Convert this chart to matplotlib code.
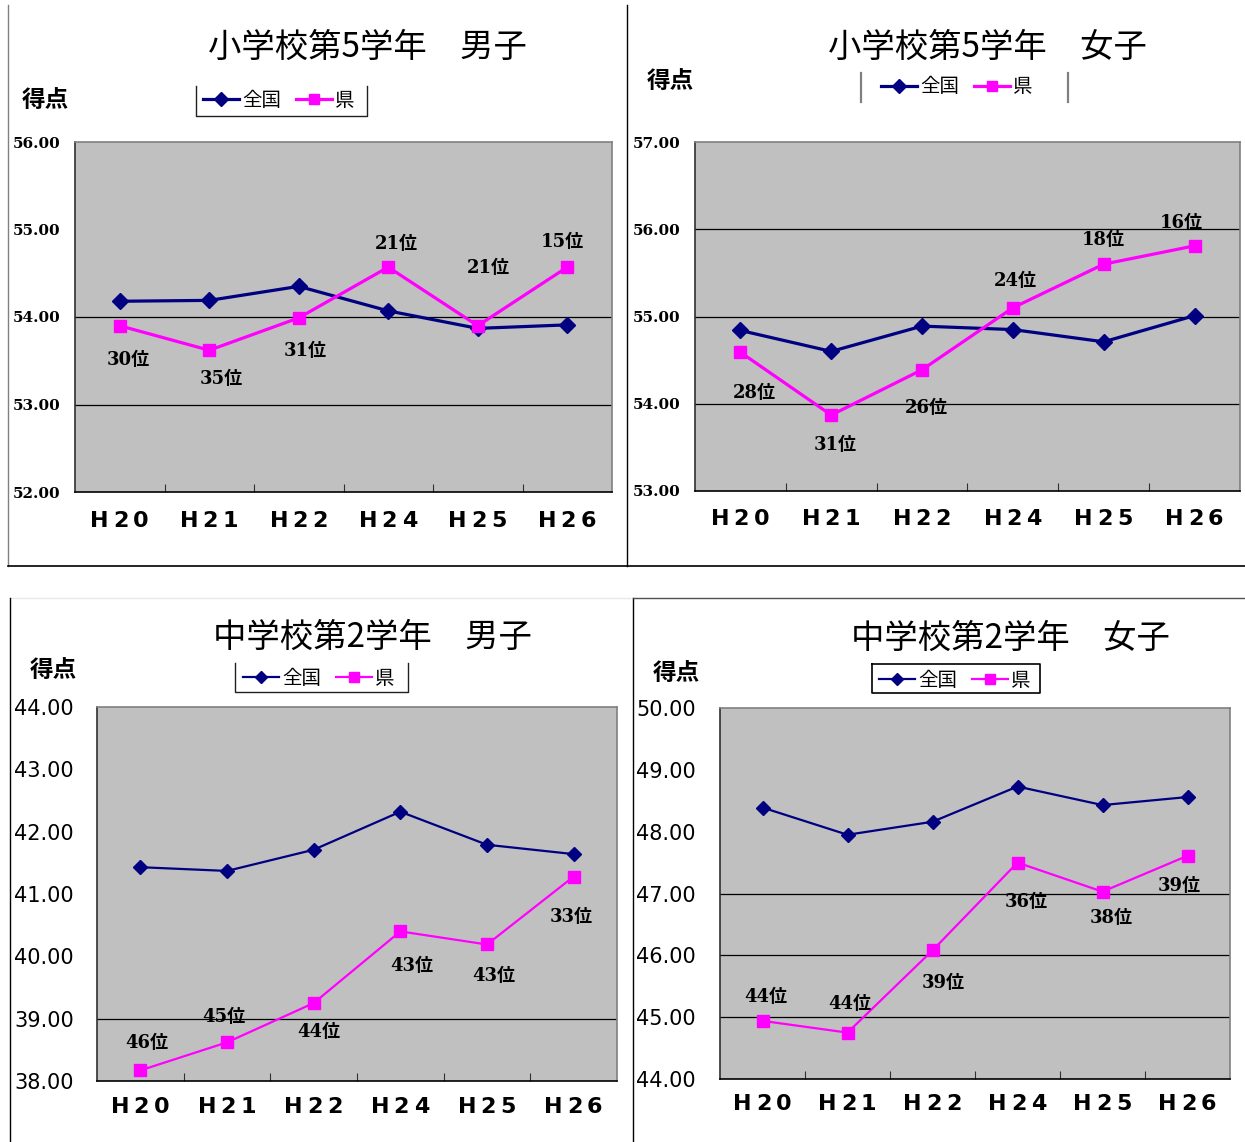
import matplotlib
matplotlib.use("Agg")
import matplotlib.pyplot as plt
from matplotlib.lines import Line2D

W, H = 1245, 1142
CJK = ["Noto Sans CJK JP", "DejaVu Sans"]
RANKFONT = ["DejaVu Serif", "Noto Sans CJK JP"]

categories = ["H20", "H21", "H22", "H24", "H25", "H26"]

titles = ["小学校第5学年　男子", "小学校第5学年　女子",
          "中学校第2学年　男子", "中学校第2学年　女子"]

national_e5_boys = [54.18, 54.19, 54.35, 54.07, 53.87, 53.91]
pref_e5_boys = [53.90, 53.62, 53.99, 54.57, 53.90, 54.57]
rank_e5_boys = ["30位", "35位", "31位", "21位", "21位", "15位"]

national_e5_girls = [54.84, 54.60, 54.89, 54.85, 54.71, 55.01]
pref_e5_girls = [54.59, 53.87, 54.39, 55.10, 55.60, 55.81]
rank_e5_girls = ["28位", "31位", "26位", "24位", "18位", "16位"]

national_j2_boys = [41.43, 41.37, 41.71, 42.32, 41.79, 41.64]
pref_j2_boys = [38.17, 38.62, 39.25, 40.40, 40.19, 41.28]
rank_j2_boys = ["46位", "45位", "44位", "43位", "43位", "33位"]

national_j2_girls = [48.39, 47.95, 48.16, 48.73, 48.43, 48.56]
pref_j2_girls = [44.94, 44.75, 46.08, 47.50, 47.03, 47.61]
rank_j2_girls = ["44位", "44位", "39位", "36位", "38位", "39位"]

ylims = [(52, 56), (53, 57), (38, 44), (44, 50)]
gridlines = [[53, 54], [54, 55, 56], [39], [45, 46, 47]]

panels = [
    dict(nat=national_e5_boys, pref=pref_e5_boys, rank=rank_e5_boys,
         box=(75, 142, 612, 492), lw=2.3, top=True,
         off=[(9, 34), (12, 29), (6, 33), (8, -23), (11, -58), (-5, -25)],
         title_xy=(367, 47), tokuten_xy=(45, 100), xlab_y=521, ytick_x=13,
         leg=dict(y=100, x0=207)),
    dict(nat=national_e5_girls, pref=pref_e5_girls, rank=rank_e5_girls,
         box=(695, 142, 1240, 491), lw=2.3, top=True,
         off=[(14, 41), (4, 30), (4, 38), (2, -27), (-1, -24), (-13, -23)],
         title_xy=(987, 47), tokuten_xy=(670, 81), xlab_y=519, ytick_x=633,
         leg=dict(y=87, x0=885)),
    dict(nat=national_j2_boys, pref=pref_j2_boys, rank=rank_j2_boys,
         box=(97, 707, 617, 1081), lw=1.6, top=False,
         off=[(6, -27), (-3, -25), (5, 29), (11, 35), (7, 32), (-2, 40)],
         title_xy=(372, 637), tokuten_xy=(53, 670), xlab_y=1107, ytick_x=14,
         leg=dict(y=678, x0=247)),
    dict(nat=national_j2_girls, pref=pref_j2_girls, rank=rank_j2_girls,
         box=(720, 708, 1230, 1079), lw=1.6, top=False,
         off=[(3, -24), (2, -29), (11, 33), (9, 39), (9, 26), (-8, 30)],
         title_xy=(1010, 638), tokuten_xy=(676, 673), xlab_y=1104, ytick_x=636,
         leg=dict(y=680, x0=883)),
]

NAVY = "#000080"
MAG = "#FF00FF"
CHAR_OFFSETS = [-20, 1, 21]

fig = plt.figure(figsize=(W / 100, H / 100), dpi=100)
fig.patch.set_facecolor("white")


def fx(x):
    return x / W


def fy(y):
    return 1 - y / H


def fline(xs, ys, color="black", lw=1.0):
    fig.add_artist(Line2D([fx(x) for x in xs], [fy(y) for y in ys],
                          color=color, lw=lw, transform=fig.transFigure))


x = list(range(len(categories)))

for i, p in enumerate(panels):
    x0, y0, x1, y1 = p["box"]
    ax = fig.add_axes([fx(x0), fy(y1), (x1 - x0) / W, (y1 - y0) / H])
    ax.set_facecolor("#C0C0C0")
    ax.set_xlim(-0.5, len(categories) - 0.5)
    ax.set_ylim(*ylims[i])
    for g in gridlines[i]:
        ax.axhline(g, color="black", lw=0.9, zorder=1)
    ms = 9 if p["top"] else 8
    ax.plot(x, p["nat"], color=NAVY, lw=p["lw"], marker="D", ms=ms - 1,
            zorder=3, label="全国")
    ax.plot(x, p["pref"], color=MAG, lw=p["lw"], marker="s", ms=ms,
            zorder=4, label="県")
    for j, (v, r) in enumerate(zip(p["pref"], p["rank"])):
        dx, dy = p["off"][j]
        ax.annotate(r, (j, v), xytext=(dx * 0.72, -dy * 0.72),
                    textcoords="offset points", ha="center", va="center",
                    fontsize=13, fontweight="bold", family=RANKFONT, zorder=5)
    # spines
    ax.spines["top"].set_color("#808080")
    ax.spines["right"].set_color("#808080")
    ax.spines["left"].set_color("#303030")
    ax.spines["bottom"].set_color("black")
    for s in ax.spines.values():
        s.set_linewidth(1.2)
    # ticks
    ax.set_xticks(x)
    ax.set_xticklabels([])
    ax.set_xticks([k + 0.5 for k in range(len(categories) - 1)], minor=True)
    ax.tick_params(axis="x", which="major", length=0)
    ax.tick_params(axis="x", which="minor", direction="in", length=6,
                   width=0.8, color="#303030")
    lo, hi = ylims[i]
    yt = list(range(lo, hi + 1))
    ax.set_yticks(yt)
    ax.set_yticklabels([f"{v:.2f}" for v in yt])
    pad = (x0 - p["ytick_x"]) * 0.72
    ax.tick_params(axis="y", length=0, pad=pad)
    for lab in ax.get_yticklabels():
        lab.set_horizontalalignment("left")
        if p["top"]:
            lab.set_family("DejaVu Serif")
            lab.set_fontweight("bold")
            lab.set_fontsize(11)
        else:
            lab.set_family("DejaVu Sans")
            lab.set_fontsize(15)
    # category labels (wide letter spacing)
    for j, c in enumerate(categories):
        cx = x0 + (x1 - x0) * (j + 0.5) / len(categories)
        for k, ch in enumerate(c):
            fig.text(fx(cx + CHAR_OFFSETS[k]), fy(p["xlab_y"]), ch,
                     ha="center", va="center", fontsize=16,
                     fontweight="bold", family="DejaVu Sans")
    # title and axis label
    fig.text(fx(p["title_xy"][0]), fy(p["title_xy"][1]), titles[i],
             ha="center", va="center", fontsize=24, family=CJK)
    fig.text(fx(p["tokuten_xy"][0]), fy(p["tokuten_xy"][1]), "得点",
             ha="center", va="center", fontsize=17, fontweight="bold",
             family=CJK)
    # legend
    lg = p["leg"]
    ax.legend(loc="center left",
              bbox_to_anchor=(fx(lg["x0"] - 6), fy(lg["y"])),
              bbox_transform=fig.transFigure, ncol=2, frameon=False,
              prop=dict(family=CJK, size=14), handlelength=1.85,
              handletextpad=0.15, columnspacing=0.8, borderpad=0.1,
              borderaxespad=0, markerscale=0.85)

# legend frames
fline([196, 196, 367, 367], [86, 116, 116, 86], "#202020", 1.0)
fline([861, 861], [73, 102], "#808080", 1.6)
fline([1068, 1068], [73, 102], "#808080", 1.6)
fline([235, 235, 408, 408], [663, 692, 692, 663], "#202020", 1.0)
fline([872, 872, 1040, 1040, 872], [664, 693, 693, 664, 664], "black", 1.2)

# panel separators
fline([8, 8], [5, 566], "#808080", 1.0)
fline([8, 1245], [566, 566], "black", 1.2)
fline([627, 627], [5, 566], "black", 1.0)
fline([10, 630], [598, 598], "#E8E8E8", 1.0)
fline([10, 10], [598, 1142], "black", 1.0)
fline([633, 633], [598, 1142], "black", 1.0)
fline([633, 1245], [598, 598], "#505050", 1.0)

fig.savefig("out.png", dpi=100)
